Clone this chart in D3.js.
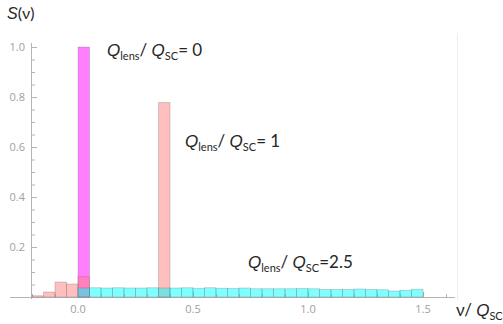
<!DOCTYPE html>
<html lang="en">
<head>
<meta charset="UTF-8">
<title>S(nu) histogram</title>
<script src="https://d3js.org/d3.v7.min.js"></script>
<style>
  body { margin: 0; background: #fff; }
  svg { display: block; }
  .tick-label { font: 11px "Open Sans", sans-serif; fill: #a0a0a0; }
  .note { font-family: Lato, "Open Sans", sans-serif; fill: #262626; }
  .it { font-family: "Liberation Sans", sans-serif; font-style: italic; }
</style>
</head>
<body>
<div id="chart"></div>
<script>
const w = 503;
const h = 324;
const binWidth = 0.05;

// Q_lens/Q_SC = 0
const q0Starts = [0.0];
const q0Values = [1.0];

// Q_lens/Q_SC = 1
const q1Starts = [-0.2, -0.15, -0.1, -0.05, 0.0, 0.35];
const q1Values = [0.005, 0.02, 0.06, 0.052, 0.081, 0.778];

// Q_lens/Q_SC = 2.5
const q25Starts = [0.0, 0.05, 0.1, 0.15, 0.2, 0.25, 0.3, 0.35, 0.4, 0.45,
                   0.5, 0.55, 0.6, 0.65, 0.7, 0.75, 0.8, 0.85, 0.9, 0.95,
                   1.0, 1.05, 1.1, 1.15, 1.2, 1.25, 1.3, 1.35, 1.4, 1.45];
const q25Values = [0.036, 0.037, 0.036, 0.037, 0.036, 0.036, 0.037, 0.036, 0.036, 0.037,
                   0.035, 0.037, 0.035, 0.034, 0.036, 0.033, 0.033, 0.033, 0.033, 0.034,
                   0.033, 0.030, 0.030, 0.030, 0.032, 0.030, 0.029, 0.024, 0.027, 0.031];

const yMajor = [0.2, 0.4, 0.6, 0.8, 1.0];
const yMinor = [0.05, 0.1, 0.15, 0.25, 0.3, 0.35, 0.45, 0.5, 0.55, 0.65, 0.7, 0.75, 0.85, 0.9, 0.95];
const xMajor = [0.0, 0.5, 1.0, 1.5];
const xMinor = [-0.2, -0.1, 0.1, 0.2, 0.3, 0.4, 0.6, 0.7, 0.8, 0.9, 1.1, 1.2, 1.3, 1.4, 1.6];

const x = d3.scaleLinear().domain([-0.2, 1.5]).range([32, 423]);
const y = d3.scaleLinear().domain([0, 1]).range([297, 47]);

const svg = d3.select("#chart").append("svg")
    .attr("width", w)
    .attr("height", h);

const axisColor = "#b4b4b4";

// faint border line on the right
svg.append("line")
    .attr("x1", 457.5).attr("x2", 457.5)
    .attr("y1", 33).attr("y2", 300)
    .attr("stroke", "#eeeeee");

// axes lines
svg.append("line")
    .attr("x1", 10).attr("x2", 455)
    .attr("y1", y(0) + 0.5).attr("y2", y(0) + 0.5)
    .attr("stroke", axisColor);
svg.append("line")
    .attr("x1", x(-0.2) - 0.5).attr("x2", x(-0.2) - 0.5)
    .attr("y1", 43).attr("y2", 299)
    .attr("stroke", axisColor);

// y ticks
svg.selectAll(".ymaj").data(yMajor).join("line")
    .attr("x1", x(-0.2)).attr("x2", x(-0.2) + 5)
    .attr("y1", d => y(d) + 0.5).attr("y2", d => y(d) + 0.5)
    .attr("stroke", axisColor);
svg.selectAll(".ymin").data(yMinor).join("line")
    .attr("x1", x(-0.2)).attr("x2", x(-0.2) + 3)
    .attr("y1", d => y(d) + 0.5).attr("y2", d => y(d) + 0.5)
    .attr("stroke", axisColor);
svg.selectAll(".ylab").data(yMajor).join("text")
    .attr("class", "tick-label")
    .attr("x", 25)
    .attr("y", d => y(d) + 4)
    .attr("text-anchor", "end")
    .text(d => d3.format(".1f")(d));

// x ticks
svg.selectAll(".xmaj").data(xMajor).join("line")
    .attr("x1", d => x(d) + 0.5).attr("x2", d => x(d) + 0.5)
    .attr("y1", y(0)).attr("y2", y(0) - 5)
    .attr("stroke", axisColor);
svg.selectAll(".xmin").data(xMinor).join("line")
    .attr("x1", d => x(d) + 0.5).attr("x2", d => x(d) + 0.5)
    .attr("y1", y(0)).attr("y2", y(0) - 3)
    .attr("stroke", axisColor);
svg.selectAll(".xlab").data(xMajor).join("text")
    .attr("class", "tick-label")
    .attr("x", d => x(d))
    .attr("y", 313)
    .attr("text-anchor", "middle")
    .text(d => d3.format(".1f")(d));

// histograms
function drawBars(starts, values, fill) {
    svg.append("g").selectAll("rect")
        .data(starts.map((s, i) => ({ s, v: values[i] })))
        .join("rect")
        .attr("x", d => x(d.s))
        .attr("width", d => x(d.s + binWidth) - x(d.s))
        .attr("y", d => y(d.v))
        .attr("height", d => y(0) - y(d.v))
        .attr("fill", fill)
        .attr("fill-opacity", 0.5)
        .attr("stroke", "rgba(90,90,90,0.3)")
        .attr("stroke-width", 0.8);
}
drawBars(q0Starts, q0Values, "#ff00ff");
drawBars(q1Starts, q1Values, "#ff7f7f");
drawBars(q25Starts, q25Values, "#00ffff");

// labels
function qLabel(px, py, tail) {
    const t = svg.append("text").attr("class", "note")
        .attr("x", px).attr("y", py).attr("font-size", 17);
    t.append("tspan").attr("class", "it").text("Q");
    t.append("tspan").attr("font-size", 11).attr("dy", 4).text("lens");
    t.append("tspan").attr("dy", -4).text("/ ");
    t.append("tspan").attr("class", "it").text("Q");
    t.append("tspan").attr("font-size", 11).attr("dy", 4).text("SC");
    t.append("tspan").attr("dy", -4).text(tail);
}
qLabel(107, 56, "= 0");
qLabel(185, 147, "= 1");
qLabel(248, 268, "=2.5");

const s = svg.append("text").attr("class", "note")
    .attr("x", 7).attr("y", 19).attr("font-size", 16);
s.append("tspan").attr("class", "it").text("S");
s.append("tspan").text("(ν)");

const nu = svg.append("text").attr("class", "note")
    .attr("x", 456).attr("y", 316).attr("font-size", 17);
nu.append("tspan").text("ν/ ");
nu.append("tspan").attr("class", "it").text("Q");
nu.append("tspan").attr("font-size", 11).attr("dy", 4).text("SC");
</script>
</body>
</html>
